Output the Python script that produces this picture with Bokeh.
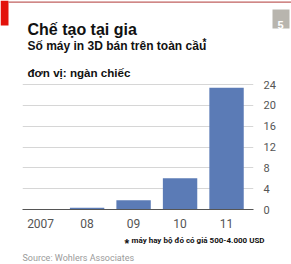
from bokeh.plotting import figure
from bokeh.models import Label, BoxAnnotation, FixedTicker, Range1d
from bokeh.layouts import column
from bokeh.embed import file_html
from bokeh.resources import INLINE

years = ["2007", "08", "09", "10", "11"]
sales = [0.05, 0.35, 1.8, 6.0, 23.4]
yticks = [0, 4, 8, 12, 16, 20, 24]

W = 291
HEAD_H, CHART_H, FOOT_H = 79, 153, 32


def blank(h):
    f = figure(width=W, height=h, output_backend="svg", toolbar_location=None,
               x_range=Range1d(0, W), y_range=Range1d(h, 0), frame_align=False,
               min_border=0, min_border_left=0, min_border_right=0,
               min_border_top=0, min_border_bottom=0)
    f.axis.visible = False
    f.grid.visible = False
    f.outline_line_color = None
    f.background_fill_color = "white"
    f.border_fill_color = "white"
    return f


def lab(f, x, y, t, size, color="#111111", style="normal", font="Liberation Sans"):
    f.add_layout(Label(x=x, y=y, text=t, text_font=font, text_font_size=size,
                       text_color=color, text_font_style=style, text_baseline="alphabetic"))


def box(f, x0, x1, y0, y1, color):
    f.add_layout(BoxAnnotation(left=x0, right=x1, top=y0, bottom=y1, fill_color=color,
                               fill_alpha=1, line_color=None, level="underlay"))


# header
head = blank(HEAD_H)
box(head, 0, 8, 0, 25, "#e3120b")
box(head, 8, W, 1, 2.2, "#c0605f")
box(head, 272, 289, 9, 28, "#b8b5ae")
lab(head, 277, 24, "5", "11px", color="white", style="bold")
lab(head, 27, 29, "Chế tạo tại gia", "16px", style="bold")
lab(head, 27, 45, "Số máy in 3D bán trên toàn cầu", "12px", style="bold")
lab(head, 202, 42, "*", "10px", style="bold")
lab(head, 27, 72, "đơn vị: ngàn chiếc", "11.6px", style="bold")

# chart
FL, FT, FB = 22, 1, 209 - HEAD_H
p = figure(width=W, height=CHART_H, output_backend="svg", toolbar_location=None,
           x_range=Range1d(-0.39, 4.58), y_range=Range1d(0, 24.8), frame_align=False,
           y_axis_location="right", min_border_left=FL, min_border_right=38,
           min_border_top=FT, min_border_bottom=CHART_H - FB)
p.outline_line_color = None
p.background_fill_color = "white"
p.border_fill_color = "white"

xs = list(range(len(years)))
p.vbar(x=xs, top=sales, width=0.74, bottom=0, color="#5b7bb6", line_color=None)

p.xgrid.visible = False
p.ygrid.grid_line_color = "#d6d6d6"
p.ygrid.grid_line_width = 1
p.ygrid.ticker = FixedTicker(ticks=yticks[1:])

xa = p.xaxis[0]
xa.ticker = FixedTicker(ticks=xs)
xa.major_label_overrides = {i: y for i, y in enumerate(years)}
xa.axis_line_color = "#555555"
xa.major_tick_line_color = None
xa.minor_tick_line_color = None
xa.major_label_standoff = 3
xa.major_label_text_font = "Roboto"
xa.major_label_text_font_size = "12px"
xa.major_label_text_color = "#555555"

ya = p.yaxis[0]
ya.ticker = FixedTicker(ticks=yticks)
ya.axis_line_color = None
ya.major_tick_line_color = None
ya.minor_tick_line_color = None
ya.major_label_standoff = 4
ya.major_label_text_font = "Roboto"
ya.major_label_text_font_size = "11px"
ya.major_label_text_color = "#555555"

# footer
Y0 = HEAD_H + CHART_H
foot = blank(FOOT_H)
lab(foot, 124, 243 - Y0, "*", "12px", style="bold")
lab(foot, 131, 240 - Y0, "máy hay bộ đó có giá 500-4.000 USD", "8px", style="bold", font="Roboto")
lab(foot, 22, 257 - Y0, "Source: Wohlers Associates", "9px", color="#9a9a9a", font="Roboto")

layout = column(head, p, foot, spacing=0)
open("out.html", "w").write(file_html(layout, INLINE))
